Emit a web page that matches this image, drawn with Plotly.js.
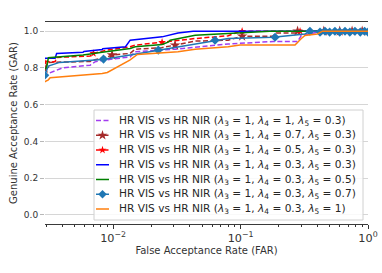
<!DOCTYPE html>
<html>
<head>
<meta charset="utf-8">
<script src="https://cdn.plot.ly/plotly-3.0.1.min.js"></script>
<style>html,body{margin:0;padding:0;background:#fff}#chart{width:382px;height:273px}</style>
</head>
<body>
<div id="chart"></div>
<script>
// Series: HR VIS vs HR NIR, FAR (x) and GAR (y)
const purpleFar = [0.0029, 0.0031, 0.0040, 0.0066, 0.0069, 0.0072, 0.0084, 0.0136, 0.0149, 0.0306, 0.063, 0.080, 0.18, 0.28, 0.30, 0.35, 0.44, 1.0];
const purpleGar = [0.745, 0.77, 0.80, 0.815, 0.825, 0.833, 0.842, 0.86, 0.888, 0.902, 0.924, 0.93, 0.944, 0.944, 0.977, 0.985, 1.0, 1.0];

const brownFar = [0.0029, 0.0031, 0.0066, 0.0072, 0.0090, 0.0098, 0.0136, 0.0149, 0.024, 0.0306, 0.044, 0.080, 0.1028, 0.18, 0.19, 0.27, 0.28, 1.0];
const brownGar = [0.797, 0.83, 0.835, 0.845, 0.86, 0.87, 0.879, 0.902, 0.91, 0.924, 0.946, 0.951, 0.973, 0.973, 0.99, 0.99, 1.0, 1.0];
const brownMarkFar = [0.0029, 0.0098, 0.0306, 0.1028, 0.28, 0.45, 0.6, 0.75, 0.9];
const brownMarkGar = [0.797, 0.87, 0.924, 0.973, 1.0, 1.0, 1.0, 1.0, 1.0];

const redFar = [0.0029, 0.0035, 0.0036, 0.0066, 0.0070, 0.0090, 0.0136, 0.0149, 0.0242, 0.044, 0.080, 0.099, 1.0];
const redGar = [0.833, 0.833, 0.857, 0.865, 0.879, 0.897, 0.915, 0.924, 0.94, 0.96, 0.975, 1.0, 1.0];
const redMarkFar = [0.0029, 0.0070, 0.0242, 0.1028, 0.293];
const redMarkGar = [0.833, 0.879, 0.94, 1.0, 1.0];

const blueFar = [0.0029, 0.0035, 0.0036, 0.0058, 0.0059, 0.0082, 0.0083, 0.0125, 0.0136, 0.0242, 0.0323, 0.0424, 1.0];
const blueGar = [0.852, 0.852, 0.879, 0.885, 0.89, 0.90, 0.905, 0.915, 0.951, 0.969, 0.99, 1.0, 1.0];

const greenFar = [0.0029, 0.0030, 0.0031, 0.0058, 0.0082, 0.0136, 0.0149, 0.0242, 0.027, 0.028, 0.044, 0.080, 0.1188, 0.17, 1.0];
const greenGar = [0.797, 0.80, 0.855, 0.87, 0.885, 0.906, 0.915, 0.928, 0.94, 0.951, 0.978, 0.987, 0.995, 1.0, 1.0];

const steelFar = [0.0029, 0.0031, 0.0038, 0.0058, 0.0082, 0.0136, 0.0226, 0.0323, 0.063, 0.080, 0.18, 0.30, 0.32, 0.35, 1.0];
const steelGar = [0.76, 0.81, 0.83, 0.837, 0.846, 0.87, 0.897, 0.915, 0.951, 0.96, 0.967, 0.985, 0.985, 1.0, 1.0];
const steelMarkFar = [0.0029, 0.0084, 0.0226, 0.063, 0.1865, 0.35, 0.42, 0.46, 0.50, 0.55, 0.60, 0.66, 0.72, 0.79, 0.87, 0.94, 1.0];
const steelMarkGar = [0.76, 0.848, 0.897, 0.951, 0.967, 1.0, 0.995, 1.0, 0.995, 1.0, 0.995, 1.0, 0.995, 1.0, 0.995, 1.0, 0.995];

const orangeFar = [0.0029, 0.0031, 0.0032, 0.0058, 0.0082, 0.0090, 0.0114, 0.0135, 0.0155, 0.0323, 0.044, 0.080, 0.099, 0.2675, 0.30, 0.32, 0.40, 0.44, 1.0];
const orangeGar = [0.724, 0.735, 0.746, 0.76, 0.77, 0.775, 0.815, 0.842, 0.873, 0.888, 0.902, 0.915, 0.925, 0.925, 0.96, 0.977, 0.985, 1.0, 1.0];

const legendNames = [
  'HR VIS vs HR NIR (<i>λ</i><sub>3</sub> = 1, <i>λ</i><sub>4</sub> = 1, <i>λ</i><sub>5</sub> = 0.3)',
  'HR VIS vs HR NIR (<i>λ</i><sub>3</sub> = 1, <i>λ</i><sub>4</sub> = 0.7, <i>λ</i><sub>5</sub> = 0.3)',
  'HR VIS vs HR NIR (<i>λ</i><sub>3</sub> = 1, <i>λ</i><sub>4</sub> = 0.5, <i>λ</i><sub>5</sub> = 0.3)',
  'HR VIS vs HR NIR (<i>λ</i><sub>3</sub> = 1, <i>λ</i><sub>4</sub> = 0.3, <i>λ</i><sub>5</sub> = 0.3)',
  'HR VIS vs HR NIR (<i>λ</i><sub>3</sub> = 1, <i>λ</i><sub>4</sub> = 0.3, <i>λ</i><sub>5</sub> = 0.5)',
  'HR VIS vs HR NIR (<i>λ</i><sub>3</sub> = 1, <i>λ</i><sub>4</sub> = 0.3, <i>λ</i><sub>5</sub> = 0.7)',
  'HR VIS vs HR NIR (<i>λ</i><sub>3</sub> = 1, <i>λ</i><sub>4</sub> = 0.3, <i>λ</i><sub>5</sub> = 1)'
];
const yTickVals = [0.0, 0.2, 0.4, 0.6, 0.8, 1.0];

const C = {purple:'#a23cf0', brown:'#a52a2a', red:'#ff0000', blue:'#0000ff', green:'#008000', steel:'#1f77b4', orange:'#ff7f0e'};
const DASH = '5px,2.5px';
const LW = 1.5;

function line(x, y, color, dash) {
  return {x, y, type:'scatter', mode:'lines', showlegend:false, hoverinfo:'skip',
          line:{color, width:LW, dash: dash || 'solid'}};
}
function marks(x, y, color, symbol, size) {
  return {x, y, type:'scatter', mode:'markers', showlegend:false, hoverinfo:'skip',
          marker:{color, symbol, size, line:{width:0}}};
}

const data = [
  line(purpleFar, purpleGar, C.purple, DASH),
  line(brownFar, brownGar, C.brown, DASH),
  marks(brownMarkFar, brownMarkGar, C.brown, 'star', 8),
  line(redFar, redGar, C.red, DASH),
  marks(redMarkFar, redMarkGar, C.red, 'star', 6),
  line(blueFar, blueGar, C.blue),
  line(greenFar, greenGar, C.green),
  line(steelFar, steelGar, C.steel),
  marks(steelMarkFar, steelMarkGar, C.steel, 'diamond', 7),
  line(orangeFar, orangeGar, C.orange)
];

// ---- Legend (drawn on an overlay axis in pixel units, matplotlib-like compact rows) ----
const legStyles = [
  {color:C.purple, dash:DASH},
  {color:C.brown, dash:DASH, symbol:'star', size:7.5},
  {color:C.red, dash:DASH, symbol:'star', size:6},
  {color:C.blue},
  {color:C.green},
  {color:C.steel, symbol:'diamond', size:6.5},
  {color:C.orange}
];
const PL = 45, PR = 368, PT = 22, PB = 224;       // plot area in page pixels
const box = {x0:94, x1:363, y0:110, y1:220};
const rowY0 = 120.5, rowStep = 14.75;
const sampX0 = 96, sampX1 = 109, textX = 117;

data.push({x:[box.x0, box.x1, box.x1, box.x0, box.x0], y:[box.y0, box.y0, box.y1, box.y1, box.y0],
  xaxis:'x2', yaxis:'y2', type:'scatter', mode:'lines', fill:'toself',
  fillcolor:'rgba(255,255,255,0.85)', line:{color:'#d0d0d0', width:1}, showlegend:false, hoverinfo:'skip'});

const annotations = [];
legStyles.forEach((s, i) => {
  const y = rowY0 + i * rowStep;
  data.push({x:[sampX0, sampX1], y:[y, y], xaxis:'x2', yaxis:'y2', type:'scatter', mode:'lines',
    line:{color:s.color, width:LW, dash:s.dash || 'solid'}, showlegend:false, hoverinfo:'skip'});
  if (s.symbol) {
    data.push({x:[(sampX0 + sampX1) / 2], y:[y], xaxis:'x2', yaxis:'y2', type:'scatter', mode:'markers',
      marker:{color:s.color, symbol:s.symbol, size:s.size, line:{width:0}}, showlegend:false, hoverinfo:'skip'});
  }
  annotations.push({x:textX, y:y, xref:'x2', yref:'y2', xanchor:'left', yanchor:'middle',
    text:legendNames[i], showarrow:false, font:{family:'DejaVu Sans', size:10.6, color:'#262626'}});
});

const layout = {
  width:382, height:273,
  margin:{l:PL, r:382 - PR, t:PT, b:273 - PB},
  paper_bgcolor:'#fff', plot_bgcolor:'#fff',
  font:{family:'DejaVu Sans', size:9, color:'#333'},
  showlegend:false,
  xaxis:{
    type:'log', range:[-2.535, 0],
    tickmode:'linear', tick0:0, dtick:1,
    exponentformat:'power', labelalias:{'1':'10<sup>0</sup>'},
    showgrid:false, zeroline:false,
    showline:true, mirror:true, linecolor:'#3a3a3a', linewidth:1,
    ticks:'outside', ticklen:4, tickcolor:'#333', tickfont:{size:9, color:'#333'},
    minor:{ticks:'outside', ticklen:2, tickcolor:'#333', dtick:'D1', showgrid:false},
    title:{text:'False Acceptance Rate (FAR)', font:{size:10, color:'#333'}, standoff:2}
  },
  yaxis:{
    range:[-0.05, 1.05],
    tickvals:yTickVals, ticktext:yTickVals.map(v => v.toFixed(1)),
    showgrid:true, gridcolor:'#d6d6d6', gridwidth:1, zeroline:false,
    showline:false, ticks:'outside', ticklen:4, tickcolor:'#b8b8b8',
    tickfont:{size:9, color:'#333'},
    title:{text:'Genuine Acceptance Rate (GAR)', font:{size:10, color:'#333'}, standoff:4}
  },
  xaxis2:{overlaying:'x', anchor:'y2', range:[PL, PR], visible:false, fixedrange:true},
  yaxis2:{overlaying:'y', anchor:'x2', range:[PB, PT], visible:false, fixedrange:true},
  annotations
};

Plotly.newPlot('chart', data, layout, {staticPlot:true, displayModeBar:false});
</script>
</body>
</html>
